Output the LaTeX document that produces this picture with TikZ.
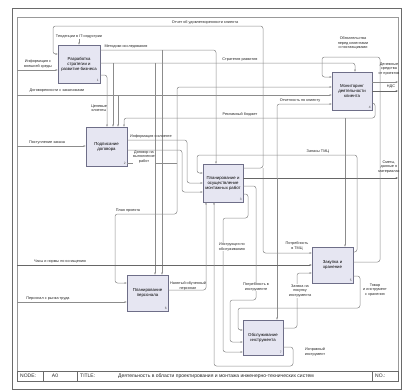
\documentclass[tikz,border=0pt]{standalone}
\usepackage{fontspec}
\setmainfont{Liberation Sans}
\usetikzlibrary{arrows.meta,shadows}
\definecolor{boxfill}{HTML}{E6E6F2}
\definecolor{boxedge}{HTML}{6E6E88}
\definecolor{wire}{HTML}{8C8C8C}
\definecolor{darkwire}{HTML}{666666}
\definecolor{frameline}{HTML}{6A6A6A}
\tikzset{
  func/.style={draw=boxedge, fill=boxfill, line width=0.6pt, inner sep=1pt,
    align=center, font=\fontsize{4.3}{5}\selectfont,
    drop shadow={shadow xshift=0.9pt, shadow yshift=-0.9pt, fill=black!50, opacity=1}},
  wire/.style={draw=wire, line width=0.5pt, rounded corners=2.5pt},
  flow/.style={wire, -{Stealth[length=2.4pt,width=1.8pt]}},
  strong/.style={draw=darkwire, line width=0.6pt},
  lbl/.style={font=\fontsize{3.8}{4.4}\selectfont, align=center, inner sep=0.4pt, text=black!85},
  lblw/.style={lbl, fill=white},
  num/.style={font=\fontsize{3.2}{3.6}\selectfont, inner sep=0pt, text=black!70},
  foot/.style={font=\fontsize{5}{6}\selectfont, inner sep=0pt, text=black!85},
}
\begin{document}
\begin{tikzpicture}[x=1pt,y=-1pt]
\useasboundingbox[fill=white] (0,0) rectangle (402,391);

% sheet frame and footer
\draw[frameline, line width=0.9pt] (12,8) rectangle (401,389);
\draw[black!40, line width=0.4pt] (17,17) rectangle (398,371);
\draw[frameline, line width=0.6pt] (17,371) rectangle (398,381);
\draw[frameline, line width=0.4pt] (43,371) -- (43,381) (77,371) -- (77,381) (372,371) -- (372,381);
\node[foot, anchor=west] (fnode) at (20,376) {NODE:};
\node[foot] (fa0) at (55,376) {A0};
\node[foot, anchor=west] (ftitle) at (80,376) {TITLE:};
\node[foot, anchor=west] (ftext) at (118,376) {Деятельность в области проектирования и монтажа инженерно-технических систем};
\node[foot, anchor=west] (fno) at (375,376) {NO.:};

% function boxes
\node[func, minimum width=42pt, minimum height=38pt] (b1) at (79,64) {Разработка\\стратегии и\\развитие бизнеса};
\node[func, minimum width=41pt, minimum height=39pt] (b2) at (106.5,146.5) {Подписание\\договора};
\node[func, minimum width=40pt, minimum height=38pt] (b3) at (223,183) {Планирование и\\осуществление\\монтажных работ};
\node[func, minimum width=40pt, minimum height=38pt] (b4) at (352,91) {Мониторинг\\деятельности\\клиента};
\node[func, minimum width=41pt, minimum height=36pt] (b5) at (332.5,265) {Закупка и\\хранение};
\node[func, minimum width=41pt, minimum height=36pt] (b6) at (147.5,293) {Планирование\\персонала};
\node[func, minimum width=40pt, minimum height=35pt] (b7) at (263,337.5) {Обслуживание\\инструмента};
\foreach \b/\n in {b1/1,b2/2,b3/3,b4/4,b5/5,b6/6,b7/7}
  \node[num] (\b n) at ([xshift=-2.5pt,yshift=2.8pt]\b.south east) {\n};

% boundary points
\coordinate (inA) at (17,70);
\coordinate (inB) at (17,95);
\coordinate (inC) at (17,146);
\coordinate (inD) at (17,265);
\coordinate (inE) at (17,302);
\coordinate (outA) at (398,82);
\coordinate (outB) at (398,91);
\coordinate (outC) at (398,178);

% connectors
\draw[flow] (b3.east |- 0,168) -- (263,168) -- (263,26) -- (53,26) -- (53,54) -- (b1.west |- 0,54);
\draw[flow] (263,168) -- (263,253) -- (b5.west |- 0,253);
\draw[flow] (inA) -- (b1.west |- inA);
\draw[flow] (b1.east |- 0,50) -- (216,50) -- (b3.north -| 216,0);
\draw[flow] (162,50) -- (b6.north -| 162,0);
\draw[flow] (b1.east |- 0,63) -- (355,63) -- (b4.north -| 355,0);
\draw[flow] (155,63) -- (b6.north -| 155,0);
\draw[flow] (113,63) -- (b2.north -| 113,0);
\draw[flow] (b1.east |- 0,75) -- (107,75) -- (b2.north -| 107,0);
\draw[flow] (inB) -- (b4.west |- inB);
\draw[flow] (118,95) -- (b2.north -| 118,0);
\draw[flow] (b4.east |- 0,103) -- (375,103) -- (375,118) -- (124,118) -- (b2.north -| 124,0);
\draw[flow] (345,118) -- (b5.north -| 345,0);
\draw[flow, strong] (b3.east |- outC) -- (outC);
\draw[flow] (277,178) -- (277,104) -- (b4.west |- 0,104);
\draw[flow] (277,178) -- (b7.north -| 277,0);
\draw[flow] (inC) -- (b2.west |- inC);
\draw[flow] (b2.east |- 0,140) -- (187,140) -- (187,183) -- (b3.west |- 0,183);
\draw[flow] (b2.east |- 0,150) -- (182,150) -- (182,192) -- (b3.west |- 0,192);
\draw[wire] (b2.east |- 0,163) -- (177,163);
\draw[flow] (177,163) -- (177,87) -- (b4.west |- 0,87);
\draw[flow] (177,163) -- (177,214) -- (115,214) -- (115,283) -- (b6.west |- 0,283);
\draw[flow, strong] (inD) -- (b5.west |- inD);
\draw[flow] (inE) -- (b6.west |- inE);
\draw[flow] (b6.east |- 0,290) -- (206,290) -- (b3.south -| 206,0);
\draw[flow] (b3.east |- 0,194) -- (248,194) -- (248,218) -- (223,218) -- (223,352) -- (b7.west |- 0,352);
\draw[flow] (b3.east |- 0,186) -- (256,186) -- (256,300) -- (230,300) -- (230,342) -- (b7.west |- 0,342);
\draw[flow] (b5.east |- 0,276) -- (360,276) -- (360,308) -- (238,308) -- (238,330) -- (b7.west |- 0,330);
\draw[flow] (b7.east |- 0,328) -- (297,328) -- (297,273) -- (b5.west |- 0,273);
\draw[flow] (b5.east |- 0,252) -- (357,252) -- (357,155) -- (197,155) -- (197,173) -- (b3.west |- 0,173);
\draw[flow] (b5.east |- 0,262) -- (380,262) -- (380,57) -- (322,57) -- (322,77) -- (b4.west |- 0,77);
\draw[flow] (b4.east |- outA) -- (outA);
\draw[flow, strong] (b4.east |- outB) -- (outB);
\draw[flow] (b7.east |- 0,347) -- (293,347) -- (293,366) -- (214,366) -- (b3.south -| 214,0);

% arrow labels
\node[lbl] (l1) at (205,22) {Отчет об удовлетворенности клиента};
\node[lbl] (l2) at (79,36.5) {Тенденции в IT-индустрии};
\draw[flow] (l2.south) -- (l2.south |- b1.north);
\node[lbl] (l3) at (38,64) {Информация с\\внешней среды};
\node[lbl] (l4) at (126,46.5) {Методики исследования};
\node[lbl] (l5) at (57,91) {Договоренности с заказчиками};
\node[lbl] (l6) at (99,108) {Целевые\\клиенты};
\node[lbl] (l7) at (240,59.5) {Стратегия развития};
\node[lbl] (l8) at (353,43) {Обязательства\\перед клиентами\\и поставщиками};
\node[lbl] (l9) at (389,69) {Денежные\\средства\\от проектов};
\node[lbl] (l10) at (391,87) {НДС};
\node[lbl] (l11) at (300,100.5) {Отчетность по клиенту};
\node[lbl] (l12) at (240,114.5) {Рекламный бюджет};
\node[lbl] (l13) at (47,142.5) {Поступление заказа};
\node[lbl] (l14) at (151,137) {Информация о клиенте};
\node[lblw] (l15) at (144,157) {Договор на\\выполнение\\работ};
\node[lbl] (l16) at (128,210.5) {План проекта};
\node[lbl] (l17) at (318,151.5) {Запасы ТМЦ};
\node[lbl] (l18) at (389,167) {Сметы,\\данные о\\материалах};
\node[lblw] (l19) at (232,247) {Инструкция по\\обслуживанию};
\node[lblw] (l20) at (297,246) {Потребность\\в ТМЦ};
\node[lbl] (l21) at (60,261.5) {Часы и нормы по оснащению};
\node[lbl] (l22) at (48,298.5) {Персонал с рынка труда};
\node[lbl] (l23) at (188,286) {Нанятый обученный\\персонал};
\node[lblw] (l24) at (256,287) {Потребность в\\инструменте};
\node[lblw] (l25) at (300,291) {Заявка на\\покупку\\инструмента};
\node[lbl] (l26) at (375,290) {Товар\\и инструмент\\с хранения};
\node[lbl] (l27) at (315,352) {Исправный\\инструмент};
\end{tikzpicture}
\end{document}
